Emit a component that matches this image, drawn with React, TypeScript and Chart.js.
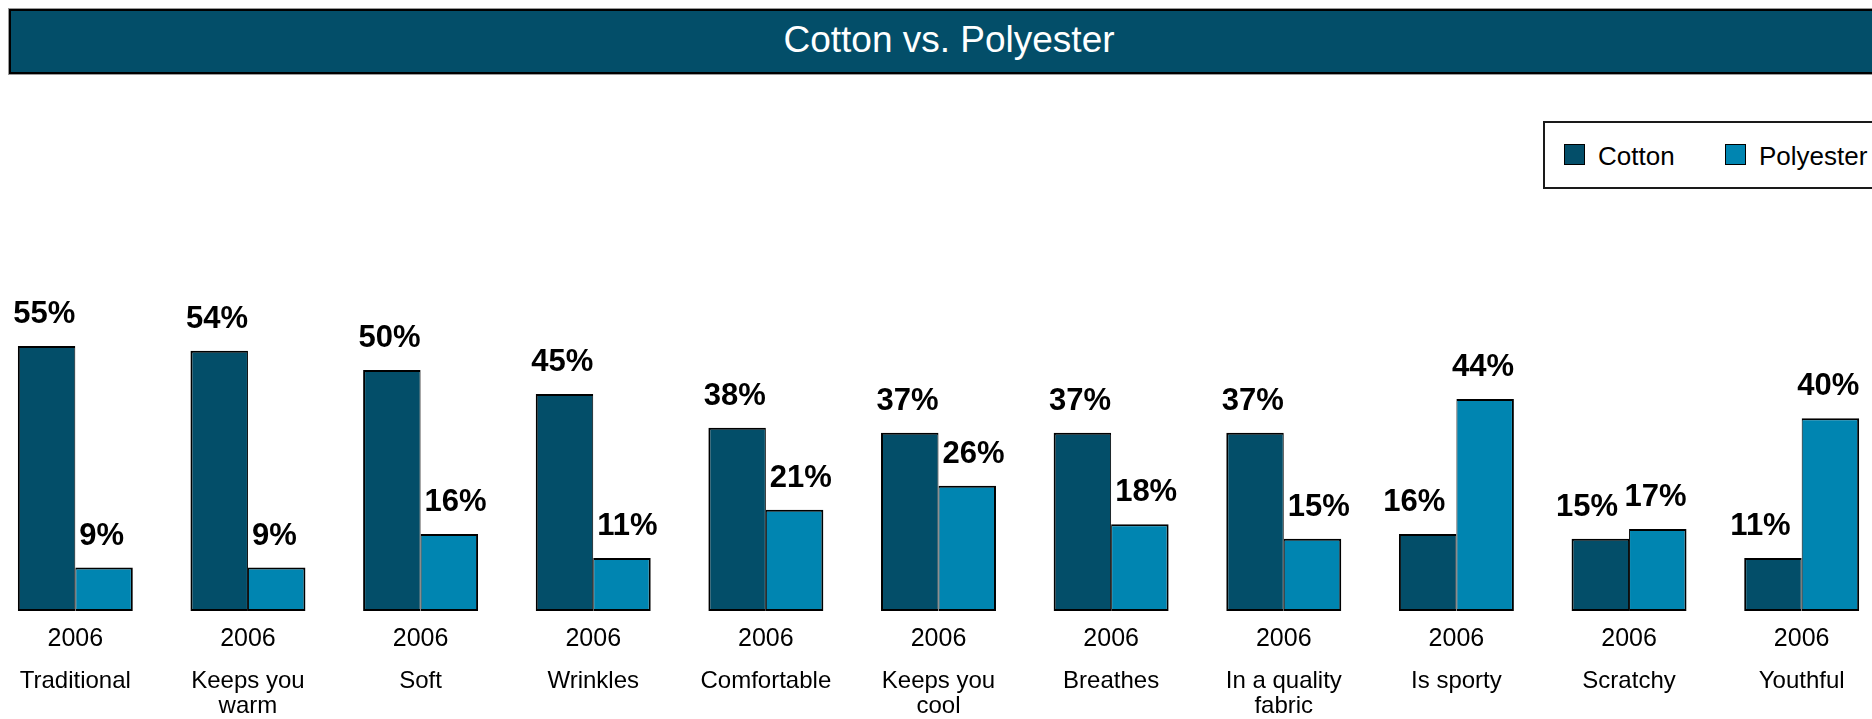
import React, { useEffect, useRef } from "react";
import { Chart, registerables } from "chart.js";

Chart.register(...registerables);

// Survey year shown under each pair of bars
const periodLabels = ["2006", "2006", "2006", "2006", "2006", "2006", "2006", "2006", "2006", "2006", "2006"];

// Attribute names (multi-line where they wrap)
const attributeLabels = [
  ["Traditional"],
  ["Keeps you", "warm"],
  ["Soft"],
  ["Wrinkles"],
  ["Comfortable"],
  ["Keeps you", "cool"],
  ["Breathes"],
  ["In a quality", "fabric"],
  ["Is sporty"],
  ["Scratchy"],
  ["Youthful"],
];

// Share of respondents (%) associating each attribute with the fabric
const cottonValues = [55, 54, 50, 45, 38, 37, 37, 37, 16, 15, 11];
const polyesterValues = [9, 9, 16, 11, 21, 26, 18, 15, 44, 17, 40];

const COTTON_COLOR = "#034E69";
const POLYESTER_COLOR = "#0085B1";
const FONT_FAMILY = '"Liberation Sans", Arial, Helvetica, sans-serif';

// Draws the bold "NN%" value above each bar
const valueLabelPlugin = {
  id: "valueLabels",
  afterDatasetsDraw(chart: any) {
    const ctx = chart.ctx;
    const cotton = chart.data.datasets[0].data as number[];
    const poly = chart.data.datasets[1].data as number[];
    ctx.save();
    ctx.font = `bold 31px ${FONT_FAMILY}`;
    ctx.fillStyle = "#000";
    ctx.textBaseline = "alphabetic";
    chart.data.datasets.forEach((ds: any, di: number) => {
      const meta = chart.getDatasetMeta(di);
      meta.data.forEach((bar: any, i: number) => {
        const { x, y, width } = bar.getProps(["x", "y", "width"], true);
        const polyLeads = poly[i] > cotton[i];
        let tx: number;
        if (di === 0) {
          ctx.textAlign = "right";
          tx = x + width / 2 - (polyLeads ? 11 : 0);
        } else {
          ctx.textAlign = "left";
          tx = x - width / 2 + (polyLeads ? -4.5 : 4);
        }
        ctx.fillText(`${ds.data[i]}%`, tx, y - 23);
      });
    });
    ctx.restore();
  },
};

function BarChart() {
  const canvasRef = useRef<HTMLCanvasElement | null>(null);

  useEffect(() => {
    if (!canvasRef.current) return;
    const chart = new Chart(canvasRef.current, {
      type: "bar",
      data: {
        labels: periodLabels,
        datasets: [
          {
            label: "Cotton",
            data: cottonValues,
            backgroundColor: COTTON_COLOR,
            borderColor: "#000",
            borderWidth: { top: 2, left: 2, bottom: 2, right: 1 },
            borderSkipped: false,
            categoryPercentage: 0.666,
            barPercentage: 1.0,
          },
          {
            label: "Polyester",
            data: polyesterValues,
            backgroundColor: POLYESTER_COLOR,
            borderColor: "#000",
            borderWidth: { top: 2, left: 1, bottom: 2, right: 2 },
            borderSkipped: false,
            categoryPercentage: 0.666,
            barPercentage: 1.0,
          },
        ],
      },
      options: {
        animation: false,
        responsive: true,
        maintainAspectRatio: false,
        layout: { padding: { top: 49, left: 0, right: 0, bottom: 0 } },
        plugins: {
          legend: { display: false },
          tooltip: { enabled: false },
          title: { display: false },
        },
        scales: {
          y: {
            display: false,
            min: 0,
            max: 100,
          },
          x: {
            position: "bottom",
            weight: 0,
            offset: true,
            grid: { display: false, drawTicks: false },
            border: { display: false },
            ticks: {
              color: "#000",
              autoSkip: false,
              maxRotation: 0,
              padding: 16,
              font: { family: FONT_FAMILY, size: 25, lineHeight: 1 },
            },
            afterFit(scale: any) {
              scale.height = 50;
            },
          },
          x2: {
            type: "category",
            position: "bottom",
            weight: 1,
            offset: true,
            labels: attributeLabels as any,
            grid: { display: false, drawTicks: false },
            border: { display: false },
            ticks: {
              color: "#000",
              autoSkip: false,
              maxRotation: 0,
              padding: 8,
              font: { family: FONT_FAMILY, size: 24, lineHeight: 25 / 24 },
            },
            afterFit(scale: any) {
              scale.height = 58;
            },
          },
        },
      } as any,
      plugins: [valueLabelPlugin],
    });
    return () => chart.destroy();
  }, []);

  return <canvas ref={canvasRef} />;
}

export default function App() {
  return (
    <div
      style={{
        position: "fixed",
        left: 0,
        top: 0,
        width: "100vw",
        height: "100vh",
        overflow: "hidden",
        background: "#fff",
        fontFamily: FONT_FAMILY,
      }}
    >
      {/* Title banner */}
      <div
        style={{
          position: "absolute",
          left: 9,
          top: 9,
          width: 1880,
          height: 65,
          boxSizing: "border-box",
          border: "2px solid #000",
          boxShadow: "0 0 0 1px #9a9a9a",
          background: COTTON_COLOR,
          color: "#fff",
          fontSize: 37,
          lineHeight: "57px",
          textAlign: "center",
        }}
      >
        Cotton vs. Polyester
      </div>

      {/* Legend */}
      <div
        style={{
          position: "absolute",
          left: 1543,
          top: 121,
          width: 345,
          height: 68,
          boxSizing: "border-box",
          border: "2px solid #1a1a1a",
          background: "#fff",
          fontSize: 26,
          color: "#000",
        }}
      >
        <div
          style={{
            position: "absolute",
            left: 19,
            top: 21,
            width: 21,
            height: 21,
            boxSizing: "border-box",
            border: "1.5px solid #000",
            background: COTTON_COLOR,
          }}
        />
        <div style={{ position: "absolute", left: 53, top: 20, lineHeight: "26px", whiteSpace: "nowrap" }}>
          Cotton
        </div>
        <div
          style={{
            position: "absolute",
            left: 180,
            top: 21,
            width: 21,
            height: 21,
            boxSizing: "border-box",
            border: "1.5px solid #000",
            background: POLYESTER_COLOR,
          }}
        />
        <div style={{ position: "absolute", left: 214, top: 20, lineHeight: "26px", whiteSpace: "nowrap" }}>
          Polyester
        </div>
      </div>

      {/* Chart */}
      <div style={{ position: "absolute", left: -11, top: 80, width: 1899, height: 639 }}>
        <BarChart />
      </div>
    </div>
  );
}
